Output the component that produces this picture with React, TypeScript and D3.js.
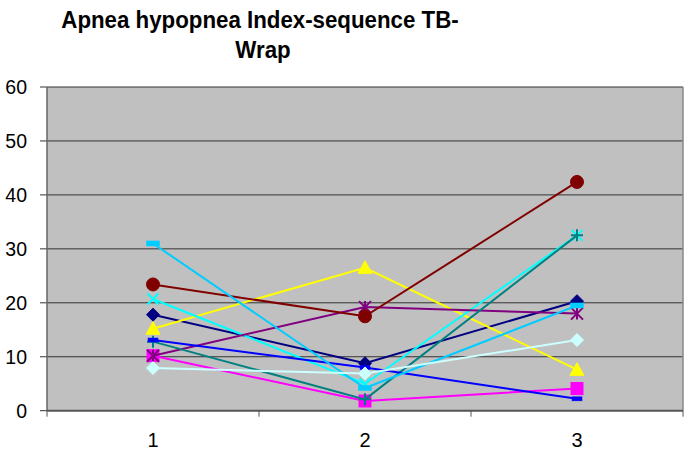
import React from "react";
import * as d3 from "d3";

const categories = ["1", "2", "3"];
const yTicks = [0, 10, 20, 30, 40, 50, 60];
const seriesNames = ["S1", "S2", "S3", "S4", "S5", "S6", "S7", "S8", "S9", "S10"];
const seriesColors = ["#000080", "#FF00FF", "#FFFF00", "#00FFFF", "#800080", "#800000", "#008080", "#0000FF", "#00CCFF", "#CCFFFF"];
const seriesMarkers = ["diamond", "square", "triangle", "x", "star", "circle", "plus", "dash", "longdash", "diamond"];
const s1 = [17.8, 8.8, 20.3];
const s2 = [10.2, 1.8, 4.1];
const s3 = [15.2, 26.5, 7.6];
const s4 = [20.7, 5.0, 32.5];
const s5 = [10.2, 19.2, 18.0];
const s6 = [23.4, 17.5, 42.4];
const s7 = [12.8, 2.1, 32.5];
const s8 = [13.1, 8.0, 2.2];
const s9 = [31.0, 4.2, 19.5];
const s10 = [7.9, 6.9, 13.1];
const seriesValues = [s1, s2, s3, s4, s5, s6, s7, s8, s9, s10];

const W = 685, H = 453;
const left = 47, right = 683, top = 87, bottom = 410.7;

function Marker({ type, x, y, color }: { type: string; x: number; y: number; color: string }) {
  switch (type) {
    case "diamond": {
      const r = 6.5;
      return <path d={`M${x},${y - r}L${x + r},${y}L${x},${y + r}L${x - r},${y}Z`} fill={color} stroke={color} strokeWidth={1} />;
    }
    case "square": {
      const r = 6;
      return <rect x={x - r} y={y - r} width={2 * r} height={2 * r} fill={color} stroke={color} strokeWidth={1} />;
    }
    case "triangle": {
      const r = 7;
      return <path d={`M${x},${y - r}L${x + r},${y + r * 0.8}L${x - r},${y + r * 0.8}Z`} fill={color} stroke={color} strokeWidth={1} />;
    }
    case "circle":
      return <circle cx={x} cy={y} r={6.5} fill={color} stroke={color} strokeWidth={1} />;
    case "x": {
      const r = 5.5;
      return <path d={`M${x - r},${y - r}L${x + r},${y + r}M${x - r},${y + r}L${x + r},${y - r}`} stroke={color} strokeWidth={2} fill="none" />;
    }
    case "star": {
      const r = 6;
      return <path d={`M${x - r},${y - r}L${x + r},${y + r}M${x - r},${y + r}L${x + r},${y - r}M${x},${y - r}L${x},${y + r}`} stroke={color} strokeWidth={2} fill="none" />;
    }
    case "plus": {
      const r = 6;
      return <path d={`M${x - r},${y}L${x + r},${y}M${x},${y - r}L${x},${y + r}`} stroke={color} strokeWidth={2} fill="none" />;
    }
    case "dash":
      return <rect x={x - 5} y={y - 2} width={10} height={4} fill={color} stroke={color} strokeWidth={0.5} />;
    case "longdash":
      return <rect x={x - 6.5} y={y - 2.5} width={13} height={5} fill={color} stroke={color} strokeWidth={0.5} />;
    default:
      return null;
  }
}

export default function App() {
  const x = d3.scaleBand<string>().domain(categories).range([left, right]).padding(0);
  const y = d3.scaleLinear().domain([0, 60]).range([bottom, top]);
  const cx = (c: string) => (x(c) as number) + x.bandwidth() / 2;
  const line = d3.line<number>().x((_, i) => cx(categories[i])).y((d) => y(d));
  const boundaries = [...categories.map((c) => x(c) as number), right];

  return (
    <svg width={W} height={H} style={{ position: "absolute", left: 0, top: 0, display: "block", background: "#fff" }}
      fontFamily="'Liberation Sans', Arial, sans-serif">
      <g transform="translate(0,28) scale(1,1.08) translate(0,-28)">
        <text x={260} y={28} textAnchor="middle" fontSize={22.3} fontWeight="bold">Apnea hypopnea Index-sequence TB-</text>
      </g>
      <g transform="translate(0,58) scale(1,1.08) translate(0,-58)">
        <text x={263} y={58} textAnchor="middle" fontSize={22.3} fontWeight="bold">Wrap</text>
      </g>
      <rect x={left} y={top} width={right - left} height={bottom - top} fill="#C0C0C0" />
      {yTicks.map((t) => (
        <g key={t}>
          {t > 0 && <line x1={left} x2={right} y1={y(t)} y2={y(t)} stroke="#333" strokeWidth={1} />}
          <line x1={left - 7} x2={left} y1={y(t)} y2={y(t)} stroke="#333" strokeWidth={1} />
          <text x={27} y={y(t) + 7} textAnchor="end" fontSize={19.5}>{t}</text>
        </g>
      ))}
      <line x1={left} x2={left} y1={top} y2={bottom} stroke="#666" strokeWidth={1.5} />
      <line x1={right} x2={right} y1={top} y2={bottom} stroke="#888" strokeWidth={1.5} />
      <line x1={left} x2={right} y1={bottom} y2={bottom} stroke="#555" strokeWidth={2} />
      {boundaries.map((b, i) => (
        <line key={i} x1={b} x2={b} y1={bottom} y2={bottom + 6} stroke="#555" strokeWidth={1} />
      ))}
      {categories.map((c) => (
        <text key={c} x={cx(c)} y={447} textAnchor="middle" fontSize={20}>{c}</text>
      ))}
      {seriesValues.map((vals, si) => (
        <g key={seriesNames[si]}>
          <path d={line(vals) as string} fill="none" stroke={seriesColors[si]} strokeWidth={2} />
          {vals.map((v, i) => (
            <Marker key={i} type={seriesMarkers[si]} x={cx(categories[i])} y={y(v)} color={seriesColors[si]} />
          ))}
        </g>
      ))}
    </svg>
  );
}
